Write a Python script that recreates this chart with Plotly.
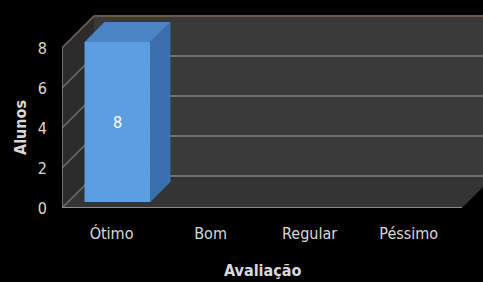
import plotly.graph_objects as go

# ---- data ----
categories = ["Ótimo", "Bom", "Regular", "Péssimo"]
values = [8, 0, 0, 0]
y_ticks = [0, 2, 4, 6, 8]
x_title = "Avaliação"
y_title = "Alunos"

# ---- layout constants ----
W, H = 483, 282
ML, MR, MT, MB = 62, 0, 8, 74
XR = [-0.5, 3.75]
YR = [0, 10]
pw, ph = W - ML - MR, H - MT - MB
pxu_x = pw / (XR[1] - XR[0])
pxu_y = ph / (YR[1] - YR[0])


def depth(px):
    return px / pxu_x, px / pxu_y


wall_dx, wall_dy = depth(32)
bf_dx, bf_dy = depth(6)
bb_dx, bb_dy = depth(26)
bar_w = 66 / pxu_x
floor_end = XR[0] + 400 / pxu_x
ymax = max(y_ticks)

WALL = "#3a3a3a"
SIDE = "#2c2c2c"
FLOOR = "#343434"
GRID = "#6e6e6e"
EDGE = "#8a8a8a"
TXT = "#d9d9d9"
FONT = "DejaVu Sans Condensed, Liberation Sans Narrow, Roboto, sans-serif"

shapes = []
x0 = XR[0]
# back wall
shapes.append(dict(type="rect", xref="x", yref="y", x0=x0 + wall_dx, x1=floor_end + wall_dx + 1,
                   y0=wall_dy, y1=ymax + wall_dy, fillcolor=WALL, line=dict(width=0), layer="below"))
# left wall
shapes.append(dict(type="path", xref="x", yref="y",
                   path=f"M{x0},0 L{x0 + wall_dx},{wall_dy} L{x0 + wall_dx},{ymax + wall_dy} L{x0},{ymax} Z",
                   fillcolor=SIDE, line=dict(width=0), layer="below"))
# floor
shapes.append(dict(type="path", xref="x", yref="y",
                   path=f"M{x0},0 L{x0 + wall_dx},{wall_dy} L{floor_end + wall_dx},{wall_dy} L{floor_end},0 Z",
                   fillcolor=FLOOR, line=dict(width=0), layer="below"))
# gridlines
for v in y_ticks:
    shapes.append(dict(type="line", xref="x", yref="y", x0=x0 + wall_dx, x1=floor_end + wall_dx + 1,
                       y0=v + wall_dy, y1=v + wall_dy, line=dict(color=GRID, width=2), layer="below"))
    shapes.append(dict(type="line", xref="x", yref="y", x0=x0, x1=x0 + wall_dx,
                       y0=v, y1=v + wall_dy, line=dict(color=GRID, width=1.5), layer="below"))
# edges
shapes.append(dict(type="line", xref="x", yref="y", x0=x0, x1=floor_end, y0=0, y1=0,
                   line=dict(color=EDGE, width=2), layer="below"))
shapes.append(dict(type="line", xref="x", yref="y", x0=x0, x1=x0, y0=0, y1=ymax,
                   line=dict(color=EDGE, width=1.5), layer="below"))
shapes.append(dict(type="line", xref="x", yref="y", x0=x0, x1=x0 + wall_dx, y0=ymax, y1=ymax + wall_dy,
                   line=dict(color="#6a5a50", width=1.5), layer="below"))
shapes.append(dict(type="line", xref="x", yref="y", x0=x0 + wall_dx, x1=floor_end + wall_dx + 1,
                   y0=ymax + wall_dy, y1=ymax + wall_dy, line=dict(color="#6a5a50", width=2), layer="below"))

fig = go.Figure()

# 3D faces of bars (top and right side), computed from data
for i, v in enumerate(values):
    if v <= 0:
        continue
    xl = i + bf_dx - bar_w / 2
    xr = i + bf_dx + bar_w / 2
    yb = bf_dy
    yt = bf_dy + v
    ddx, ddy = bb_dx - bf_dx, bb_dy - bf_dy
    # top face
    fig.add_trace(go.Scatter(x=[xl, xr, xr + ddx, xl + ddx, xl], y=[yt, yt, yt + ddy, yt + ddy, yt],
                             fill="toself", fillcolor="#4a84c4", mode="lines",
                             line=dict(width=0), hoverinfo="skip", showlegend=False))
    # right face
    fig.add_trace(go.Scatter(x=[xr, xr + ddx, xr + ddx, xr, xr], y=[yb, yb + ddy, yt + ddy, yt, yb],
                             fill="toself", fillcolor="#3a70ad", mode="lines",
                             line=dict(width=0), hoverinfo="skip", showlegend=False))

# front face of bars
fig.add_trace(go.Bar(
    x=[i + bf_dx for i in range(len(categories))], y=values, base=bf_dy, width=bar_w,
    marker=dict(color="#5b9ee2", line=dict(width=0)),
    text=[str(v) if v else "" for v in values], textposition="inside",
    insidetextanchor="middle", textfont=dict(color="white", size=16, family=FONT),
    showlegend=False))

fig.update_layout(
    width=W, height=H, margin=dict(l=ML, r=MR, t=MT, b=MB),
    paper_bgcolor="black", plot_bgcolor="black",
    shapes=shapes,
    font=dict(family=FONT, color=TXT, size=16),
    xaxis=dict(range=XR, tickvals=list(range(len(categories))), ticktext=categories,
               showgrid=False, zeroline=False, showline=False, ticks="",
               ticklabelstandoff=14, tickfont=dict(size=16, color=TXT), fixedrange=True),
    yaxis=dict(range=YR, tickvals=y_ticks, showgrid=False, zeroline=False, showline=False,
               ticks="", ticklabelstandoff=14, tickfont=dict(size=16, color=TXT), fixedrange=True),
    annotations=[
        dict(text=f"<b>{x_title}</b>", xref="paper", yref="paper", x=(262 - ML) / pw, y=-(270 - MT - ph) / ph,
             showarrow=False, font=dict(size=16, color=TXT), xanchor="center", yanchor="middle"),
        dict(text=f"<b>{y_title}</b>", xref="paper", yref="paper", x=-(ML - 20) / pw, y=(H - MB - 128) / ph,
             showarrow=False, textangle=-90, font=dict(size=16, color=TXT), xanchor="center", yanchor="middle"),
    ],
)

fig.write_html("out.html", config={"displayModeBar": False},
               post_script="document.body.style.margin='0';document.body.style.background='black';")
